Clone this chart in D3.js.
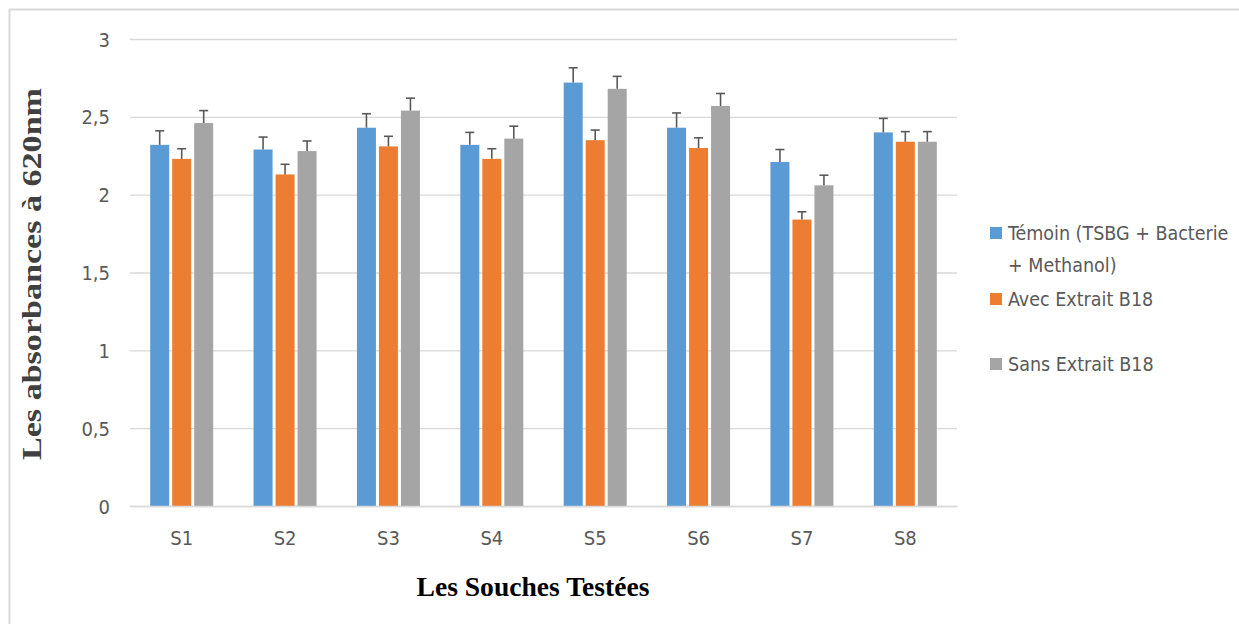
<!DOCTYPE html>
<html><head><meta charset="utf-8">
<script src="https://cdn.jsdelivr.net/npm/d3@7"></script>
<style>
body{margin:0;background:#fff;}
.tick-lbl{font-family:"Liberation Sans Narrow","Arial Narrow","DejaVu Sans Condensed",sans-serif;font-stretch:condensed;fill:#595959;}
</style></head>
<body><svg id="c" width="1239" height="624"></svg>
<script>
const categories = ["S1","S2","S3","S4","S5","S6","S7","S8"];
const seriesNames = ["Témoin (TSBG + Bacterie + Methanol)","Avec Extrait B18","Sans Extrait B18"];
const temoin      = [2.32, 2.29, 2.43, 2.32, 2.72, 2.43, 2.21, 2.40];
const temoinErr   = [0.09, 0.08, 0.09, 0.08, 0.095, 0.095, 0.08, 0.09];
const avec        = [2.23, 2.13, 2.31, 2.23, 2.35, 2.30, 1.84, 2.34];
const avecErr     = [0.065, 0.065, 0.065, 0.065, 0.065, 0.065, 0.05, 0.065];
const sans        = [2.46, 2.28, 2.54, 2.36, 2.68, 2.57, 2.06, 2.34];
const sansErr     = [0.08, 0.065, 0.08, 0.08, 0.08, 0.08, 0.065, 0.065];
const yTicks      = [0, 0.5, 1, 1.5, 2, 2.5, 3];
const colors      = ["#5B9BD5", "#ED7D31", "#A5A5A5"];

const series = [
  {name: seriesNames[0], values: temoin, errs: temoinErr},
  {name: seriesNames[1], values: avec, errs: avecErr},
  {name: seriesNames[2], values: sans, errs: sansErr}
];

const svg = d3.select("#c");
const fmt = d => String(d).replace(".", ",");

// outer frame (top & left edges visible)
svg.append("line").attr("x1",9).attr("x2",1239).attr("y1",9.5).attr("y2",9.5).attr("stroke","#D9D9D9").attr("stroke-width",2);
svg.append("line").attr("x1",9.5).attr("x2",9.5).attr("y1",9).attr("y2",624).attr("stroke","#D9D9D9").attr("stroke-width",2);

const x0 = d3.scaleBand().domain(categories).range([130, 957]).paddingInner(0).paddingOuter(0);
const y = d3.scaleLinear().domain([0, 3]).range([506, 39]);
const x1 = d3.scaleBand().domain([0,1,2]).range([x0.bandwidth()/2 - 33, x0.bandwidth()/2 + 33]).padding(0);

// gridlines
const grid = svg.append("g").attr("transform", "translate(130,0)")
  .call(d3.axisLeft(y).tickValues(yTicks).tickSize(-827).tickFormat(""));
grid.select(".domain").remove();
grid.selectAll("line").attr("stroke","#D9D9D9").attr("stroke-width",1.3);

// y tick labels
const ya = svg.append("g").attr("transform","translate(110,0)")
  .call(d3.axisLeft(y).tickValues(yTicks).tickSize(0).tickPadding(0).tickFormat(fmt));
ya.select(".domain").remove();
ya.selectAll("text").attr("class","tick-lbl").attr("font-size",20).attr("dy","0.35em");

// bars
const groups = svg.append("g").selectAll("g").data(categories).join("g")
  .attr("transform", d => `translate(${x0(d)},0)`);

series.forEach((s, si) => {
  groups.append("rect")
    .attr("x", x1(si) + 1.5)
    .attr("width", x1.bandwidth() - 3)
    .attr("y", (d, i) => y(s.values[i]))
    .attr("height", (d, i) => y(0) - y(s.values[i]))
    .attr("fill", colors[si]);
  // error bars
  const cx = x1(si) + x1.bandwidth()/2;
  groups.append("line")
    .attr("x1", cx).attr("x2", cx)
    .attr("y1", (d, i) => y(s.values[i]))
    .attr("y2", (d, i) => y(s.values[i] + s.errs[i]))
    .attr("stroke", "#595959").attr("stroke-width", 1.6);
  groups.append("line")
    .attr("x1", cx - 4.5).attr("x2", cx + 4.5)
    .attr("y1", (d, i) => y(s.values[i] + s.errs[i]))
    .attr("y2", (d, i) => y(s.values[i] + s.errs[i]))
    .attr("stroke", "#595959").attr("stroke-width", 1.6);
});

// x axis
const xa = svg.append("g").attr("transform","translate(0,506)")
  .call(d3.axisBottom(x0).tickSize(0).tickPadding(0));
xa.select(".domain").attr("stroke","#D9D9D9").attr("stroke-width",1.3);
xa.selectAll("text").attr("class","tick-lbl").attr("font-size",20).attr("y",39).attr("dy",0);

// axis titles
svg.append("text").attr("x", 533).attr("y", 596).attr("text-anchor","middle")
  .attr("font-family","Liberation Serif, serif").attr("font-weight","bold").attr("font-size",27)
  .attr("textLength",233).attr("lengthAdjust","spacingAndGlyphs")
  .attr("fill","#000").text("Les Souches Testées");
svg.append("text").attr("transform","translate(41,274) rotate(-90)").attr("text-anchor","middle")
  .attr("font-family","Liberation Serif, serif").attr("font-weight","bold").attr("font-size",27)
  .attr("textLength",372).attr("lengthAdjust","spacingAndGlyphs")
  .attr("fill","#404040").text("Les absorbances à 620nm");

// legend
const legend = [
  {lines: ["Témoin (TSBG + Bacterie", "+ Methanol)"], y: 233, ci: 0},
  {lines: ["Avec Extrait B18"], y: 299, ci: 1},
  {lines: ["Sans Extrait B18"], y: 364, ci: 2}
];
const lg = svg.append("g");
legend.forEach(l => {
  lg.append("rect").attr("x", 990).attr("y", l.y - 6).attr("width", 12).attr("height", 12).attr("fill", colors[l.ci]);
  l.lines.forEach((t, k) => {
    lg.append("text").attr("class","tick-lbl").attr("font-size",19.5)
      .attr("x", 1008).attr("y", l.y + k*32).attr("dy","0.35em").text(t);
  });
});
</script></body></html>
